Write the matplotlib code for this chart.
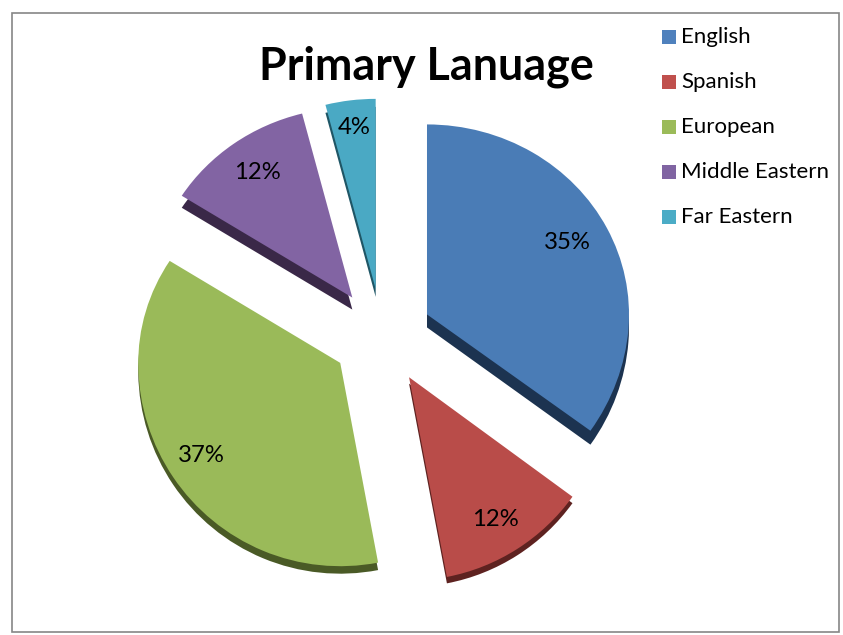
import matplotlib
matplotlib.use('Agg')
from matplotlib import pyplot as plt
from matplotlib.patches import Rectangle
import numpy as np

labels = ['English', 'Spanish', 'European', 'Middle Eastern', 'Far Eastern']
values = [35, 12, 37, 12, 4]
pct_labels = ['35%', '12%', '37%', '12%', '4%']
colors = ['#4a7cb6', '#b94c49', '#9aba59', '#8264a3', '#4aa9c4']
legend_colors = ['#4f81bd', '#c0504d', '#9bbb59', '#8064a2', '#4bacc6']
side_colors = ['#1c3350', '#5e2220', '#4a5a26', '#3a2848', '#1f5666']
explode = [0.25, 0.25, 0.25, 0.25, 0.25]
side_depth = [13, 6, 7, 12, 8]

W, H = 843, 635
RX, RY = 202, 190
CX, CY = 382, 336
# lower part of the pie is bigger in the original (perspective)
STRETCH_FROM, STRETCH = 360, 0.07

plt.rcParams['font.family'] = ['Lato', 'DejaVu Sans']


def forward(y):
    p = -np.asarray(y, dtype=float) * RY
    return -(p + STRETCH * np.clip(p - STRETCH_FROM, 0, None))


def inverse(v):
    q = -np.asarray(v, dtype=float)
    p = np.where(q < STRETCH_FROM, q, STRETCH_FROM + (q - STRETCH_FROM) / (1 + STRETCH))
    return -p / RY


fig = plt.figure(figsize=(W / 100, H / 100), dpi=100, facecolor='white')
ax = fig.add_axes([0, 0, 1, 1])

sides, _ = ax.pie(values, explode=explode, colors=side_colors, startangle=90, counterclock=False,
                  center=(CX / RX, -CY / RY), radius=1)
for w, d in zip(sides, side_depth):
    x, y = w.center
    w.set_center((x, y - d / RY))
ax.pie(values, explode=explode, colors=colors, startangle=90, counterclock=False,
       center=(CX / RX, -CY / RY), radius=1)

ax.set_aspect('auto')
ax.set_yscale('function', functions=(forward, inverse))
ax.set_xlim(0, W / RX)
ax.set_ylim(float(inverse(-H)), 0)
ax.axis('off')

# outer frame
fig.add_artist(Rectangle((12 / W, 1 - 632 / H), 827 / W, 619 / H, transform=fig.transFigure,
                         fill=False, edgecolor='#868686', linewidth=1.2))

fig.text(426 / W, 1 - 67 / H, 'Primary Lanuage', fontsize=32.3, fontweight='bold',
         ha='center', va='center', color='black')

pct_pos = [(567, 242), (495, 519), (201, 455), (257, 172), (354, 127)]
for txt, (px, py) in zip(pct_labels, pct_pos):
    fig.text(px / W, 1 - py / H, txt, fontsize=17.2, ha='center', va='center', color='black')

leg_y = [37, 82, 127, 172, 217]
for name, col, ly in zip(labels, legend_colors, leg_y):
    fig.add_artist(Rectangle((662 / W, 1 - (ly + 7) / H), 14 / W, 14 / H, transform=fig.transFigure,
                             facecolor=col, edgecolor='none'))
    fig.text(681 / W, 1 - ly / H, name, fontsize=16, ha='left', va='center', color='black')

fig.savefig('out.png', dpi=100)
